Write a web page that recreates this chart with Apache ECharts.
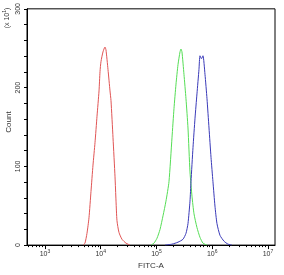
<!DOCTYPE html>
<html lang="en">

<head>
    <meta charset="UTF-8">
    <title>FITC-A histogram</title>
    <style>
        html, body { margin: 0; padding: 0; background: #fff; }
        #chart { width: 284px; height: 275px; }
    </style>
    <script src="https://cdn.jsdelivr.net/npm/echarts@6/dist/echarts.min.js"></script>
</head>

<body>
    <div id="chart"></div>

    <script>
        // x values are log10(FITC-A), y values are counts (x 10^1)
        var redLog = [3.682, 3.717, 3.753, 3.789, 3.825, 3.861, 3.897, 3.933, 3.969, 3.987, 4.004, 4.040, 4.076,
            4.094, 4.130, 4.166, 4.184, 4.220, 4.256, 4.274, 4.291, 4.327, 4.381, 4.453, 4.525];
        var redCount = [0, 2.5, 14.9, 34.7, 68.1, 101.6, 130.1, 163.6, 195.8, 220.5, 232.9, 245.3, 251.5,
            247.8, 223.0, 195.8, 183.4, 136.3, 86.7, 55.8, 31.0, 16.1, 7.4, 2.5, 0];

        var greenLog = [4.901, 4.955, 5.009, 5.063, 5.117, 5.170, 5.224, 5.278, 5.314, 5.350, 5.386, 5.422, 5.439,
            5.457, 5.493, 5.529, 5.565, 5.601, 5.637, 5.673, 5.726, 5.780, 5.834, 5.906];
        var greenCount = [0, 2.5, 8.7, 19.8, 37.2, 55.8, 80.5, 136.3, 173.5, 204.4, 229.2, 245.3, 249.0,
            245.3, 216.8, 185.9, 148.7, 92.9, 62.0, 39.7, 22.3, 9.9, 2.5, 0];

        var blueLog = [5.152, 5.278, 5.386, 5.475, 5.529, 5.565, 5.601, 5.619, 5.655, 5.691, 5.726, 5.762, 5.780,
            5.807, 5.834, 5.870, 5.906, 5.942, 5.978, 6.013, 6.049, 6.085, 6.139, 6.211, 6.283, 6.354];
        var blueCount = [0, 1.2, 3.7, 7.4, 14.9, 27.3, 55.8, 80.5, 123.9, 161.1, 192.0, 223.0, 240.4,
            236.7, 240.4, 216.8, 185.9, 148.7, 111.5, 80.5, 49.6, 27.3, 12.4, 5.0, 1.2, 0];

        var decades = [3, 4, 5, 6, 7];
        var yLabels = [0, 100, 200, 300];

        function pairs(xs, ys) {
            return xs.map(function (x, i) { return [x, ys[i]]; });
        }

        var xMin = 2.677, xMax = 7.126;
        var minorTicks = [];
        [2, 3, 4, 5, 6].forEach(function (d) {
            for (var k = 2; k <= 9; k++) {
                var v = d + Math.log10(k);
                if (v > xMin && v < xMax) minorTicks.push(v);
            }
        });

        var font = 'Liberation Sans, Arial, sans-serif';
        var textColor = '#333';

        var myChart = echarts.init(document.getElementById('chart'));

        var option = {
            animation: false,
            grid: {
                left: 27, top: 8, right: 9, bottom: 25,
                show: true, borderColor: '#000', borderWidth: 1
            },
            xAxis: [
                {
                    type: 'value', min: xMin, max: xMax,
                    name: 'FITC-A', nameLocation: 'middle', nameGap: 14,
                    nameTextStyle: { fontSize: 8, color: textColor, fontFamily: font },
                    splitLine: { show: false },
                    axisLine: { lineStyle: { color: '#000', width: 1 } },
                    axisTick: { customValues: decades, length: 4, lineStyle: { color: '#000' } },
                    axisLabel: {
                        customValues: decades, margin: 4,
                        fontSize: 7, color: textColor, fontFamily: font,
                        formatter: function (v) { return '10{s|' + v + '}'; },
                        rich: { s: { fontSize: 5, color: textColor, fontFamily: font, padding: [0, 0, 4, 0] } }
                    }
                },
                {
                    type: 'value', min: xMin, max: xMax, position: 'bottom',
                    splitLine: { show: false },
                    axisLine: { show: false },
                    axisTick: { customValues: minorTicks, length: 2, lineStyle: { color: '#000' } },
                    axisLabel: { show: false }
                }
            ],
            yAxis: {
                type: 'value', min: 0, max: 300, interval: 20,
                splitLine: { show: false },
                axisLine: { show: true, lineStyle: { color: '#000', width: 1 } },
                axisTick: { show: true, length: 3, lineStyle: { color: '#000' } },
                axisLabel: {
                    rotate: 90, margin: 5, fontSize: 7, color: textColor, fontFamily: font,
                    formatter: function (v) { return yLabels.indexOf(v) >= 0 ? String(v) : ''; }
                }
            },
            graphic: [
                {
                    type: 'text', x: 7, y: 18, rotation: Math.PI / 2,
                    style: {
                        text: '(x 10{s|1})', fill: textColor, font: '7px ' + font,
                        align: 'center', verticalAlign: 'middle',
                        rich: { s: { fontSize: 5, fill: textColor, padding: [0, 0, 4, 0] } }
                    }
                },
                {
                    type: 'text', x: 9, y: 122, rotation: Math.PI / 2,
                    style: {
                        text: 'Count', fill: textColor, font: '8px ' + font,
                        align: 'center', verticalAlign: 'middle'
                    }
                }
            ],
            series: [
                {
                    name: 'red', type: 'line', data: pairs(redLog, redCount),
                    showSymbol: false, smooth: 0.2,
                    lineStyle: { color: '#e05555', width: 1 }
                },
                {
                    name: 'green', type: 'line', data: pairs(greenLog, greenCount),
                    showSymbol: false, smooth: 0.2,
                    lineStyle: { color: '#55dd55', width: 1 }
                },
                {
                    name: 'blue', type: 'line', data: pairs(blueLog, blueCount),
                    showSymbol: false, smooth: 0.2,
                    lineStyle: { color: '#3a3ab8', width: 1 }
                }
            ]
        };

        myChart.setOption(option);
    </script>
</body>

</html>
